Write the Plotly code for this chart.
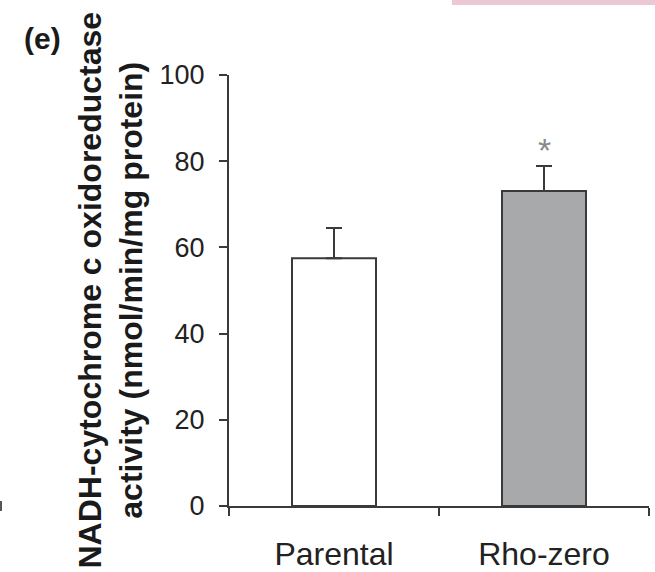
import plotly.graph_objects as go

categories = ["Parental", "Rho-zero"]
activity = [57.5, 73.1]
error_upper = [7.0, 5.8]
significance = ["", "*"]
y_ticks = [0, 20, 40, 60, 80, 100]

FONT = "Liberation Sans, Arial, Helvetica, sans-serif"
DARK = "#3a3a3a"

fig = go.Figure()
fig.add_trace(go.Bar(
    x=categories,
    y=activity,
    width=0.4,
    marker=dict(color=["#ffffff", "#a8a9ab"], line=dict(color=DARK, width=2)),
    error_y=dict(type="data", symmetric=False, array=error_upper,
                 arrayminus=[0] * len(activity), color=DARK, thickness=2, width=8),
    showlegend=False,
))

for cat, val, err, sig in zip(categories, activity, error_upper, significance):
    if sig:
        fig.add_annotation(x=cat, y=val + err, yshift=16, text=sig, showarrow=False,
                           font=dict(family=FONT, size=34, color="#8a8a8a"),
                           xref="x", yref="y", yanchor="middle")

fig.add_annotation(
    text="NADH-cytochrome c oxidoreductase<br>activity (nmol/min/mg protein)",
    textangle=-90, xref="paper", yref="paper", x=(110 - 229) / 420, y=0.5,
    xanchor="center", yanchor="middle", showarrow=False,
    font=dict(family=FONT, size=32, color="#1a1a1a", weight="bold"),
)
fig.add_annotation(
    text="(e)", xref="paper", yref="paper", x=(42 - 229) / 420, y=(506 - 39) / 431,
    xanchor="center", yanchor="middle", showarrow=False,
    font=dict(family=FONT, size=30, color="#1a1a1a", weight="bold"),
)

# pink strip at top right and small mark at left edge (scan artifacts)
fig.add_shape(type="rect", xref="paper", yref="paper",
              x0=(452 - 229) / 420, x1=(655 - 229) / 420,
              y0=(506 - 5) / 431, y1=(506 + 2) / 431,
              fillcolor="#ecc8d6", line=dict(width=0))
fig.add_shape(type="line", xref="paper", yref="paper",
              x0=(1 - 229) / 420, x1=(1 - 229) / 420,
              y0=(506 - 511) / 431, y1=(506 - 501) / 431,
              line=dict(color="#555555", width=2))

fig.update_xaxes(
    type="category", range=[-0.5, 1.5], tickson="boundaries",
    ticks="outside", ticklen=8, tickwidth=2, tickcolor=DARK,
    showline=True, linecolor=DARK, linewidth=2, showgrid=False,
    tickfont=dict(family=FONT, size=32, color="#222222"),
    ticklabelstandoff=19, automargin=False,
)
fig.update_yaxes(
    range=[0, 100], tickvals=y_ticks, ticks="outside", ticklen=8, tickwidth=2,
    tickcolor=DARK, showline=True, linecolor=DARK, linewidth=2,
    showgrid=False, zeroline=False,
    tickfont=dict(family=FONT, size=27, color="#222222"),
    ticklabelstandoff=9, automargin=False,
)
fig.update_layout(
    width=655, height=572,
    margin=dict(l=229, r=6, t=75, b=66),
    paper_bgcolor="white", plot_bgcolor="white",
    bargap=0.6,
)
fig.write_html("out.html", config={"displayModeBar": False},
               post_script="document.body.style.margin='0';document.body.style.overflow='hidden';")
